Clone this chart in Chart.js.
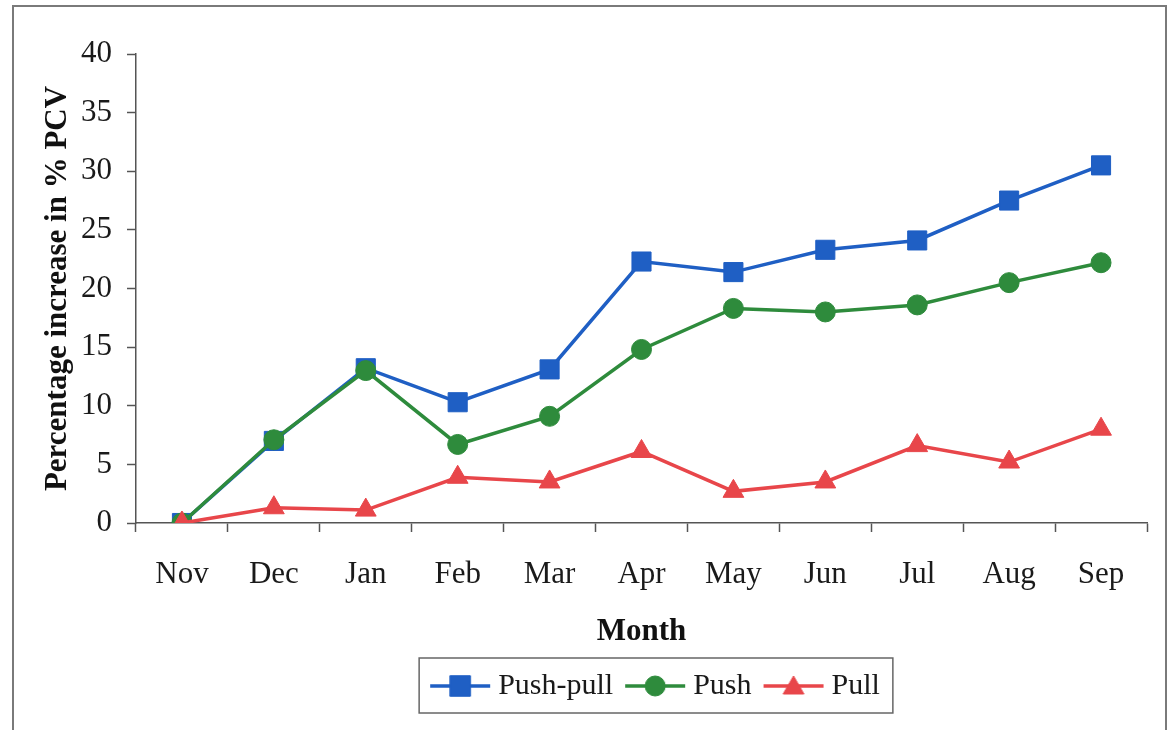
<!DOCTYPE html>
<html>
<head>
<meta charset="utf-8">
<script src="https://cdn.jsdelivr.net/npm/chart.js@4.4.0/dist/chart.umd.min.js"></script>
<style>
  html, body { margin: 0; padding: 0; background: #fff; }
  #wrap { width: 1169px; height: 730px; }
</style>
</head>
<body>
<div id="wrap"><canvas id="pcvChart" width="1169" height="730"></canvas></div>
<script>
// values
var months = ['Nov', 'Dec', 'Jan', 'Feb', 'Mar', 'Apr', 'May', 'Jun', 'Jul', 'Aug', 'Sep'];
var pushPull = [0, 7.0, 13.2, 10.3, 13.1, 22.3, 21.4, 23.3, 24.1, 27.5, 30.5];
var push = [0, 7.1, 13.0, 6.7, 9.1, 14.8, 18.3, 18.0, 18.6, 20.5, 22.2];
var pull = [0, 1.3, 1.1, 3.9, 3.5, 6.1, 2.7, 3.5, 6.6, 5.2, 8.0];
var yMin = 0, yMax = 40, yStep = 5;

var BLUE = '#1f5fc4';
var GREEN = '#2e8b3c';
var RED = '#e8464a';
var AXIS = '#555';
var SERIF = "'Liberation Serif', 'Times New Roman', serif";

// small line + marker picture for the legend
function legendIcon(color, style, radius) {
  var c = document.createElement('canvas');
  c.width = 70;
  c.height = 30;
  var g = c.getContext('2d');
  g.strokeStyle = color;
  g.lineWidth = 3.5;
  g.beginPath();
  g.moveTo(8, 15);
  g.lineTo(68, 15);
  g.stroke();
  g.fillStyle = color;
  g.strokeStyle = color;
  g.lineWidth = 1;
  Chart.helpers.drawPoint(g, { pointStyle: style, radius: radius, borderWidth: 1, rotation: 0 }, 38, style === 'triangle' ? 17 : 15);
  return c;
}

var framePlugin = {
  id: 'frame',
  afterLayout: function(chart) {
    // legend sits right of the canvas centre in the original
    chart.legend.left += 82;
    chart.legend.right += 82;
  },
  afterDraw: function(chart) {
    var ctx = chart.ctx;
    ctx.save();
    ctx.strokeStyle = '#7a7a7a';
    ctx.lineWidth = 2;
    ctx.strokeRect(13, 6, 1153, 760);
    var hb = chart.legend.legendHitBoxes;
    if (hb && hb.length) {
      var first = hb[0], last = hb[hb.length - 1];
      var yc = first.top + first.height / 2;
      ctx.strokeStyle = '#666';
      ctx.lineWidth = 1.5;
      ctx.strokeRect(first.left - 12, yc - 28, last.left + last.width - first.left + 25, 55);
    }
    ctx.restore();
  }
};

var ctx = document.getElementById('pcvChart').getContext('2d');
var chart = new Chart(ctx, {
  type: 'line',
  data: {
    labels: months,
    datasets: [
      {
        label: 'Push-pull',
        data: pushPull,
        borderColor: BLUE,
        backgroundColor: BLUE,
        borderWidth: 3.5,
        pointStyle: 'rect',
        pointRadius: 13.5,
        pointBorderWidth: 1,
        order: 3,
        icon: legendIcon(BLUE, 'rect', 14.5)
      },
      {
        label: 'Push',
        data: push,
        borderColor: GREEN,
        backgroundColor: GREEN,
        borderWidth: 3.5,
        pointStyle: 'circle',
        pointRadius: 10,
        pointBorderWidth: 1,
        order: 2,
        icon: legendIcon(GREEN, 'circle', 10)
      },
      {
        label: 'Pull',
        data: pull,
        borderColor: RED,
        backgroundColor: RED,
        borderWidth: 3.5,
        pointStyle: 'triangle',
        pointRadius: 12,
        pointBorderWidth: 1,
        order: 1,
        icon: legendIcon(RED, 'triangle', 12)
      }
    ]
  },
  options: {
    responsive: false,
    animation: false,
    layout: { padding: { top: 54, right: 22, bottom: 19, left: 0 } },
    plugins: {
      tooltip: { enabled: false },
      legend: {
        position: 'bottom',
        labels: {
          usePointStyle: true,
          pointStyleWidth: 52,
          padding: 13,
          color: '#1a1a1a',
          font: { family: SERIF, size: 30 },
          generateLabels: function(chart) {
            return chart.data.datasets.map(function(ds, i) {
              return {
                text: ds.label,
                pointStyle: ds.icon,
                fillStyle: ds.borderColor,
                strokeStyle: ds.borderColor,
                lineWidth: 0,
                fontColor: '#1a1a1a',
                hidden: false,
                datasetIndex: i
              };
            });
          }
        }
      }
    },
    scales: {
      x: {
        offset: true,
        grid: { offset: true, drawOnChartArea: false, tickLength: 9, color: AXIS, tickColor: AXIS, tickWidth: 1.5 },
        border: { color: AXIS, width: 1.5 },
        ticks: { color: '#1a1a1a', padding: 24, font: { family: SERIF, size: 31 } },
        title: {
          display: true,
          text: 'Month',
          color: '#111',
          font: { family: SERIF, size: 31, weight: 'bold', lineHeight: 1.2 },
          padding: { top: 0, bottom: 7 }
        },
        afterFit: function(s) { s.height = 135; }
      },
      y: {
        min: yMin,
        max: yMax,
        grid: { drawOnChartArea: false, tickLength: 9, color: AXIS, tickColor: AXIS, tickWidth: 1.5 },
        border: { color: AXIS, width: 1.5 },
        ticks: { stepSize: yStep, color: '#1a1a1a', padding: 15, font: { family: SERIF, size: 31 } },
        title: {
          display: true,
          text: 'Percentage increase in % PCV',
          color: '#111',
          font: { family: SERIF, size: 31, weight: 'bold', lineHeight: 1.2 },
          padding: { top: 39, bottom: 0 }
        },
        afterFit: function(s) { s.width = 136; }
      }
    }
  },
  plugins: [framePlugin]
});
</script>
</body>
</html>
